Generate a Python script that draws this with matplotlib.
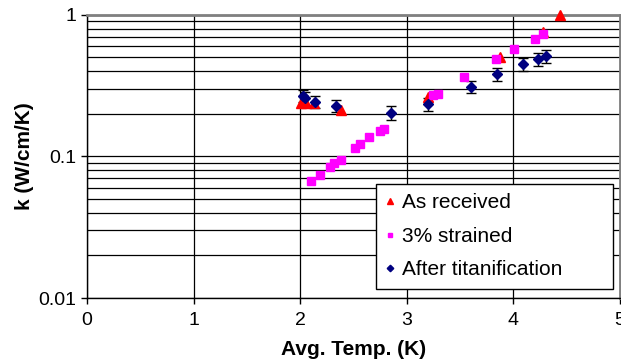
import matplotlib
matplotlib.use("Agg")
import matplotlib.pyplot as plt
from matplotlib.ticker import LogLocator, FixedLocator, NullFormatter

plt.rcParams['font.family'] = ['Liberation Sans', 'DejaVu Sans']

# as received sample
t_recv = [2.01, 2.06, 2.13, 2.38, 3.20, 3.88, 4.28, 4.44]
k_recv = [0.240, 0.240, 0.240, 0.213, 0.265, 0.508, 0.755, 1.0]

# 3% strained sample
t_strain = [2.10, 2.19, 2.28, 2.32, 2.38, 2.52, 2.56, 2.65, 2.75, 2.79,
            3.25, 3.29, 3.54, 3.84, 4.01, 4.20, 4.28]
k_strain = [0.0671, 0.074, 0.0839, 0.0895, 0.0945, 0.114, 0.122, 0.137, 0.152, 0.156,
            0.270, 0.275, 0.366, 0.486, 0.570, 0.677, 0.730]

# after titanification, with error bars
t_ti = [2.025, 2.047, 2.14, 2.34, 2.85, 3.20, 3.60, 3.85, 4.09, 4.23, 4.31]
k_ti = [0.268, 0.258, 0.244, 0.229, 0.204, 0.234, 0.311, 0.383, 0.449, 0.486, 0.513]
k_err = [0.027, 0.026, 0.025, 0.023, 0.023, 0.024, 0.031, 0.040, 0.045, 0.050, 0.055]

fig = plt.figure(figsize=(6.21, 3.63), dpi=100)
ax = fig.add_axes([0.140, 0.179, 0.858, 0.780])

ax.set_yscale('log')
ax.set_xlim(0, 5)
ax.set_ylim(0.01, 1)

ax.errorbar(t_ti, k_ti, yerr=k_err, fmt='none', ecolor='black', elinewidth=1,
            capsize=3.5, capthick=1, zorder=3)
ax.plot(t_recv, k_recv, ls='none', marker='^', ms=7, color='#ff0000', mec='#ff0000',
        label='As received', zorder=4, clip_on=False)
ax.plot(t_strain, k_strain, ls='none', marker='s', ms=5.5, color='#ff00ff', mec='#ff00ff',
        label='3% strained', zorder=5)
ax.plot(t_ti, k_ti, ls='none', marker='D', ms=5.5, color='#000080', mec='#000080',
        label='After titanification', zorder=6)

# grid: every decade step on y, integer temperatures on x
ax.xaxis.set_major_locator(FixedLocator([0, 1, 2, 3, 4, 5]))
ax.yaxis.set_major_locator(FixedLocator([0.01, 0.1, 1]))
ax.yaxis.set_minor_locator(LogLocator(base=10, subs=range(2, 10)))
ax.yaxis.set_minor_formatter(NullFormatter())
ax.set_yticklabels(['0.01', '0.1', '1'])
ax.grid(True, which='both', axis='y', color='black', lw=0.9)
ax.grid(True, which='major', axis='x', color='black', lw=0.9)
ax.set_axisbelow(True)

ax.tick_params(axis='both', which='major', direction='out', length=4, width=1,
               labelsize=14, colors='black')
ax.tick_params(axis='y', which='minor', length=0)
ax.tick_params(axis='x', pad=6)

for side in ('left', 'bottom'):
    ax.spines[side].set_color('black')
    ax.spines[side].set_linewidth(1)
for side in ('top', 'right'):
    ax.spines[side].set_color('#808080')
    ax.spines[side].set_linewidth(2)

ax.set_xlabel('Avg. Temp. (K)', fontsize=15, fontweight='bold', labelpad=8)
ax.set_ylabel('k (W/cm/K)', fontsize=15, fontweight='bold', labelpad=3)

# legend box stretched over the lower right of the plot area
leg = ax.legend(loc='upper left', bbox_to_anchor=(0.542, 0.031, 0.445, 0.372),
                mode='expand', fontsize=15, markerscale=0.6, handlelength=0.5,
                handletextpad=0.3, borderpad=0.45, borderaxespad=0,
                labelspacing=0.7, fancybox=False, framealpha=1, edgecolor='black')
leg.get_frame().set_linewidth(1)

fig.savefig('out.png', dpi=100)
